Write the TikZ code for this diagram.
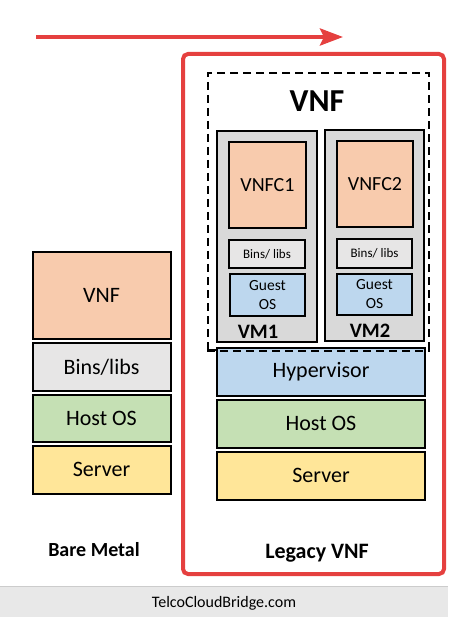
\documentclass[tikz,border=0pt]{standalone}
\usepackage{fontspec}
\setmainfont{Carlito}
\usetikzlibrary{positioning}
\usetikzlibrary{arrows.meta}

\definecolor{vnforange}{HTML}{F8CBAD}
\definecolor{binsgray}{HTML}{E7E6E6}
\definecolor{hostgreen}{HTML}{C5E0B4}
\definecolor{serveryellow}{HTML}{FFE699}
\definecolor{hyperblue}{HTML}{BDD7EE}
\definecolor{vmgray}{HTML}{D9D9D9}
\definecolor{legacyred}{HTML}{E5403F}
\definecolor{footergray}{HTML}{E8E8E8}

\begin{document}
\begin{tikzpicture}[x=1pt, y=-1pt]
		\tikzstyle{layer} = [rectangle, draw=black, line width=2pt, align=center, inner sep=0pt, font=\fontsize{22}{24}\selectfont]
		\tikzstyle{small} = [layer, font=\fontsize{15.5}{19}\selectfont]

		\useasboundingbox (0,0) rectangle (448,617);

		% footer
		\fill [footergray] (0,586) rectangle (448,617);
		\draw [black!20, line width=1pt] (0,586) -- (448,586);
		\node (site) at (224,603) {\fontsize{16}{18}\selectfont TelcoCloudBridge.com};

		% arrow
		\coordinate (arrowStart) at (36,37);
		\coordinate (arrowEnd) at (343,37);
		\draw [-{Stealth[length=23pt, width=17pt, inset=4pt]}, legacyred, line width=4pt] (arrowStart) -- (arrowEnd);

		% bare metal stack
		\node (bmVnf) [layer, fill=vnforange, minimum width=138pt, minimum height=87pt] at (101.5,295.5) {VNF};
		\node (bmBins) [layer, fill=binsgray, minimum width=138pt, minimum height=48pt, below=2pt of bmVnf] {Bins/libs};
		\node (bmHost) [layer, fill=hostgreen, minimum width=138pt, minimum height=47pt, below=2pt of bmBins] {Host OS};
		\node (bmServer) [layer, fill=serveryellow, minimum width=138pt, minimum height=48pt, below=1.5pt of bmHost] {Server};
		\node (bmLabel) at (94,550) {\fontsize{20}{22}\selectfont\bfseries Bare Metal};

		% legacy vnf
		\node (legacy) [rectangle, draw=legacyred, line width=4pt, rounded corners=5pt, minimum width=261pt, minimum height=520pt] at (313.5,314) {};
		\node (vnfArea) [rectangle, draw=black, line width=1.8pt, dash pattern=on 8pt off 5pt, minimum width=221pt, minimum height=277pt] at (318.5,211.5) {};
		\node (vnfTitle) at (317,101) {\fontsize{32}{34}\selectfont\bfseries VNF};

		\node (vm1) [layer, fill=vmgray, minimum width=100pt, minimum height=211pt] at (267,236.5) {};
		\node (vm2) [layer, fill=vmgray, minimum width=99pt, minimum height=211pt] at (374.5,235.5) {};

		\node (vnfc1) [layer, fill=vnforange, minimum width=77pt, minimum height=86pt, font=\fontsize{20}{22}\selectfont] at (267.5,185) {VNFC1};
		\node (bins1) [small, fill=binsgray, minimum width=76pt, minimum height=28pt, font=\fontsize{13}{15}\selectfont] at (267,254) {Bins/ libs};
		\node (guest1) [small, fill=hyperblue, minimum width=75pt, minimum height=42pt] at (267.5,295) {Guest\\OS};
		\node (vm1Label) at (258,332) {\fontsize{20.5}{22}\selectfont\bfseries VM1};

		\node (vnfc2) [layer, fill=vnforange, minimum width=76pt, minimum height=86pt, font=\fontsize{20}{22}\selectfont] at (375,184) {VNFC2};
		\node (bins2) [small, fill=binsgray, minimum width=75pt, minimum height=29pt, font=\fontsize{13}{15}\selectfont] at (374.5,253.5) {Bins/ libs};
		\node (guest2) [small, fill=hyperblue, minimum width=75pt, minimum height=41pt] at (374.5,294.5) {Guest\\OS};
		\node (vm2Label) at (370,331) {\fontsize{20.5}{22}\selectfont\bfseries VM2};

		\node (hyper) [layer, fill=hyperblue, minimum width=208pt, minimum height=48pt] at (321,372) {Hypervisor};
		\node (hvHost) [layer, fill=hostgreen, minimum width=208pt, minimum height=48pt, below=1.5pt of hyper] {Host OS};
		\node (hvServer) [layer, fill=serveryellow, minimum width=208pt, minimum height=48pt, below=2pt of hvHost] {Server};
		\node (legacyLabel) at (317,553) {\fontsize{22}{24}\selectfont\bfseries Legacy VNF};

		% dashed edge over the hypervisor top
		\draw [black, line width=1.8pt, dash pattern=on 8pt off 5pt] (vnfArea.south west) -- (vnfArea.south east);
	\end{tikzpicture}
\end{document}
